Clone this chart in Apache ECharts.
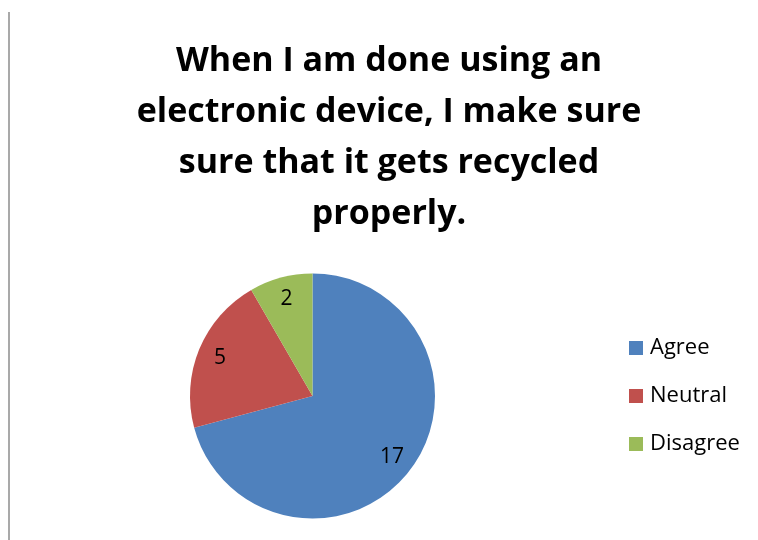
<!DOCTYPE html>
<html>
<head>
<meta charset="utf-8">
<style>
  html, body { margin: 0; padding: 0; background: #fff; }
  #chart { width: 758px; height: 540px; }
</style>
<script src="https://cdn.jsdelivr.net/npm/echarts@6/dist/echarts.min.js"></script>
</head>
<body>
<div id="chart"></div>
<script>
// Survey responses
const categories = ['Agree', 'Neutral', 'Disagree'];
const counts = [17, 5, 2];
const sliceColors = ['#4F81BD', '#C0504D', '#9BBB59'];
const titleLines = [
  'When I am done using an',
  'electronic device, I make sure',
  'sure that it gets recycled',
  'properly.'
];

const chart = echarts.init(document.getElementById('chart'), null, { renderer: 'canvas' });

const pieData = categories.map((name, i) => ({
  name: name,
  value: counts[i],
  itemStyle: { color: sliceColors[i] }
}));

const center = [312.5, 396];
const outerR = 122.5;
const font = '"Open Sans", sans-serif';

const option = {
  backgroundColor: '#ffffff',
  animation: false,
  title: {
    text: titleLines.join('\n'),
    left: 389,
    top: 36,
    textAlign: 'center',
    padding: 0,
    textStyle: {
      fontFamily: font,
      fontWeight: 'bold',
      fontSize: 34,
      lineHeight: 51,
      color: '#000000'
    }
  },
  legend: {
    orient: 'vertical',
    left: 629,
    top: 337,
    padding: 0,
    icon: 'rect',
    itemWidth: 14,
    itemHeight: 14,
    itemGap: 26,
    data: categories,
    textStyle: {
      fontFamily: font,
      fontSize: 22,
      lineHeight: 22,
      color: '#000000',
      padding: [0, 0, 0, 2]
    }
  },
  graphic: [{
    type: 'line',
    shape: { x1: 9, y1: 12, x2: 9, y2: 540 },
    style: { stroke: '#8c8c8c', lineWidth: 1.5 },
    silent: true
  }],
  series: [
    {
      // filled slices
      type: 'pie',
      center: center,
      radius: [0, outerR],
      startAngle: 90,
      clockwise: true,
      label: { show: false },
      labelLine: { show: false },
      emphasis: { disabled: true },
      itemStyle: { borderWidth: 0 },
      data: pieData
    },
    {
      // transparent ring carrying the value labels
      type: 'pie',
      center: center,
      radius: [72, outerR],
      startAngle: 90,
      clockwise: true,
      silent: true,
      label: {
        show: true,
        position: 'inside',
        formatter: '{c}',
        fontFamily: font,
        fontSize: 21,
        color: '#000000'
      },
      labelLine: { show: false },
      emphasis: { disabled: true },
      itemStyle: { color: 'rgba(0,0,0,0)', borderWidth: 0 },
      data: categories.map((name, i) => ({ name: name, value: counts[i] }))
    }
  ]
};

chart.setOption(option);
</script>
</body>
</html>
